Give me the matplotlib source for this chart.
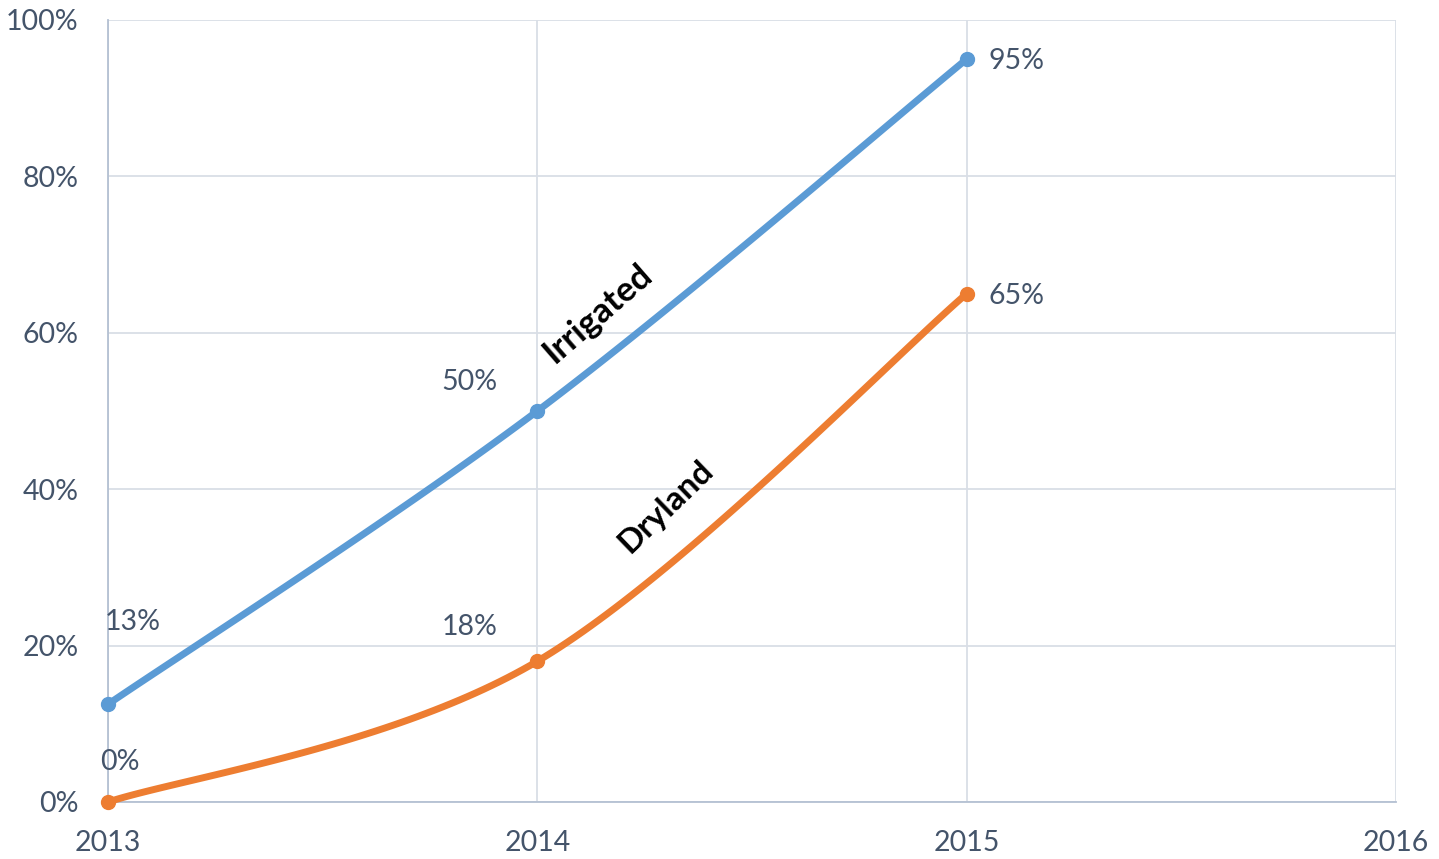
import matplotlib
matplotlib.use("Agg")
import matplotlib.pyplot as plt
import numpy as np

years = [2013, 2014, 2015]
irrigated = [12.5, 50, 95]
dryland = [0, 18, 65]
irrigated_labels = ["13%", "50%", "95%"]
dryland_labels = ["0%", "18%", "65%"]
x_ticks = [2013, 2014, 2015, 2016]
y_ticks = [0, 20, 40, 60, 80, 100]

BLUE = "#5B9BD5"
ORANGE = "#ED7D31"
TXT = "#44546A"
GRID = "#D9DEE6"
AXIS = "#B4C0D2"

plt.rcParams['font.family'] = ['Lato', 'DejaVu Sans']

fig = plt.figure(figsize=(14.39, 8.59), dpi=100)
ax = fig.add_axes([108/1439, 1-802/859, (1396-108)/1439, (802-20)/859])
ax.set_xlim(2013, 2016)
ax.set_ylim(0, 100)
ax.set_xticks(x_ticks)
ax.set_xticklabels([str(v) for v in x_ticks])
ax.set_yticks(y_ticks)
ax.set_yticklabels([f"{v}%" for v in y_ticks])
ax.tick_params(length=0, labelsize=20.5, labelcolor=TXT)
ax.tick_params(axis='x', pad=20)
ax.tick_params(axis='y', pad=21)
ax.grid(True, color=GRID, linewidth=1.3, zorder=0)
for s in ['top', 'right']:
    ax.spines[s].set_visible(False)
ax.spines['left'].set_color(AXIS)
ax.spines['bottom'].set_color(AXIS)
ax.spines['left'].set_linewidth(1.3)
ax.spines['bottom'].set_linewidth(1.3)
ax.set_axisbelow(True)


def smooth(xs, ys, n=60):
    pts = ax.transData.transform(np.column_stack([xs, ys]))
    P = np.vstack([pts[0], pts, pts[-1]])
    out = []
    for i in range(1, len(P) - 2):
        p0, p1, p2, p3 = P[i-1], P[i], P[i+1], P[i+2]
        c1 = p1 + (p2 - p0) / 6
        c2 = p2 - (p3 - p1) / 6
        t = np.linspace(0, 1, n)[:, None]
        seg = ((1-t)**3)*p1 + 3*((1-t)**2)*t*c1 + 3*(1-t)*t**2*c2 + t**3*p2
        out.append(seg if i == 1 else seg[1:])
    out = np.vstack(out)
    return ax.transData.inverted().transform(out)

for ys, col in [(irrigated, BLUE), (dryland, ORANGE)]:
    c = smooth(years, ys)
    ax.plot(c[:, 0], c[:, 1], color=col, lw=5, solid_capstyle='round', zorder=3, clip_on=False)
    ax.plot(years, ys, 'o', color=col, ms=10, zorder=4, clip_on=False)

lab_kw = dict(fontsize=20.5, color=TXT, ha='center', va='center')
offsets_irr = [(25, 82), (-68, 29), (50, -2)]
offsets_dry = [(12, 40), (-68, 34), (50, -2)]
for x, y, t, (dx, dy) in zip(years, irrigated, irrigated_labels, offsets_irr):
    ax.annotate(t, (x, y), xytext=(dx, dy), textcoords='offset pixels', **lab_kw)
for x, y, t, (dx, dy) in zip(years, dryland, dryland_labels, offsets_dry):
    ax.annotate(t, (x, y), xytext=(dx, dy), textcoords='offset pixels', **lab_kw)

ax.text(2014.1405, 62.5, "Irrigated", rotation=41, fontsize=25, fontweight='bold',
        color='black', ha='center', va='center')
ax.text(2014.3, 37.8, "Dryland", rotation=44, fontsize=24, fontweight='bold',
        color='black', ha='center', va='center')

fig.savefig("out.png", dpi=100)
